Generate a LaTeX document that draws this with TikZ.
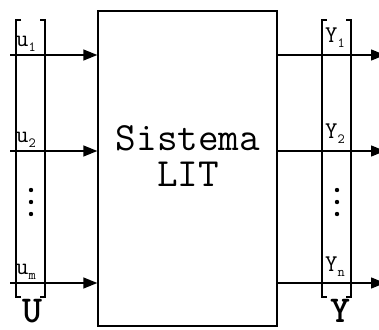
\documentclass[tikz,border=0pt]{standalone}
\usepackage{fontspec}
\usetikzlibrary{arrows.meta, positioning}
\tikzset{
  signal/.style={
    -{Triangle[length=14pt, width=11pt]},
    line width=1.4pt
  },
  vec bracket/.style={
    line width=1.3pt
  },
  sig label/.style={
    anchor=base west,
    inner sep=0pt,
    font=\ttfamily\fontsize{24}{24}\selectfont
  },
  vec name/.style={
    anchor=base,
    inner sep=0pt,
    font=\ttfamily\bfseries\fontsize{38}{38}\selectfont
  },
  sys box/.style={
    draw,
    line width=1.4pt,
    minimum width=179pt,
    minimum height=315pt,
    inner sep=0pt
  },
  sys title/.style={
    align=center,
    inner sep=0pt,
    font=\ttfamily\fontsize{40}{36}\selectfont
  }
}
% etiqueta con subindice
\newcommand{\siglab}[2]{#1\raisebox{-5pt}{\fontsize{14}{14}\selectfont #2}}

\begin{document}
\begin{tikzpicture}[x=1pt, y=-1pt]

  \useasboundingbox (0,0) rectangle (379,329);

  %% ---- bloque del sistema ----
  \node[sys box] (sys) at (187.5,168.5) {};
  \node[sys title] (title) at (188,156) {Sistema\\LIT};

  %% ---- flechas de entrada y salida ----
  \foreach \y/\k in {55/1, 151/2, 283/3} {
    \coordinate (in\k) at (10,\y);
    \coordinate (out\k) at (385,\y);
    \draw[signal] (in\k) -- (in\k -| sys.west);
    \draw[signal] (out\k -| sys.east) -- (out\k);
  }

  %% ---- vector U (corchetes) ----
  \draw[vec bracket] (21,20) -- (16,20) -- (16,297) -- (21,297);
  \draw[vec bracket] (40,20) -- (45,20) -- (45,297) -- (40,297);
  \node[sig label] (u1) at (16,46)  {\siglab{u}{1}};
  \node[sig label] (u2) at (16,142) {\siglab{u}{2}};
  \node[sig label] (um) at (16,274) {\siglab{u}{m}};
  \foreach \d in {190, 202, 214}
    \fill (31,\d) circle[radius=2.2pt];
  \node[vec name] (U) at (32,322) {U};

  %% ---- vector Y (corchetes) ----
  \draw[vec bracket] (327,20) -- (322,20) -- (322,297) -- (327,297);
  \draw[vec bracket] (346,20) -- (351,20) -- (351,297) -- (346,297);
  \node[sig label] (y1) at (325,42)  {\siglab{Y}{1}};
  \node[sig label] (y2) at (325,138) {\siglab{Y}{2}};
  \node[sig label] (yn) at (325,271) {\siglab{Y}{n}};
  \foreach \d in {190, 202, 214}
    \fill (337,\d) circle[radius=2.2pt];
  \node[vec name] (Y) at (340,322) {Y};

\end{tikzpicture}
\end{document}
